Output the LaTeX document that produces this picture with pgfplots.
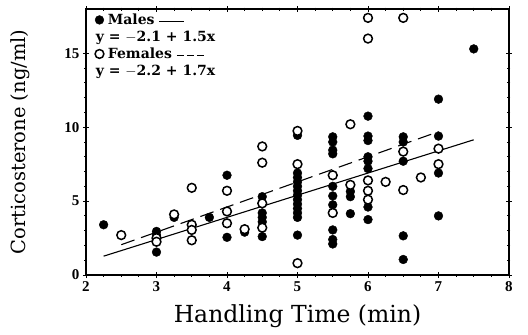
\documentclass[border=0pt]{standalone}
\usepackage{pgfplots}
\pgfplotsset{compat=1.18}
\usepackage{fontspec}
\setmainfont{DejaVu Serif}
\newfontfamily\tickfont{Liberation Serif}

\pgfplotstableread{
x y
2.25 3.4
3 2.95
3 2.7
3 1.55
3.25 3.9
3.75 3.9
4 6.75
4 2.55
4.25 2.9
4.5 5.3
4.5 4.2
4.5 3.9
4.5 3.6
4.5 2.6
5 9.45
5 6.9
5 6.6
5 6.3
5 6.0
5 5.7
5 5.4
5 5.1
5 4.8
5 4.5
5 4.2
5 3.9
5 2.7
5.5 9.35
5.5 9.0
5.5 8.45
5.5 8.2
5.5 6.0
5.5 5.35
5.5 4.75
5.5 3.05
5.5 2.4
5.5 2.1
5.75 5.65
5.75 5.3
5.75 4.15
6 10.75
6 9.4
6 9.1
6 8.0
6 7.7
6 7.2
6 4.6
6 3.75
6.5 9.35
6.5 9.0
6.5 7.7
6.5 2.65
6.5 1.05
7 11.9
7 9.4
7 6.9
7 4.0
7.5 15.3
}\males

\pgfplotstableread{
x y
2.5 2.7
3 2.5
3 2.25
3.25 4.1
3.5 5.9
3.5 3.4
3.5 3.05
3.5 2.35
4 5.7
4 4.3
4 3.5
4.25 3.1
4.5 8.7
4.5 7.6
4.5 4.85
4.5 3.2
5 9.75
5 7.5
5 0.8
5.5 6.75
5.5 4.2
5.75 10.2
5.75 6.1
6 17.4
6 16.0
6 6.4
6 5.7
6 5.1
6.25 6.3
6.5 17.4
6.5 8.35
6.5 5.75
6.75 6.6
7 8.55
7 7.5
}\females

\begin{document}
\begin{tikzpicture}
\begin{axis}[
  scale only axis, width=423pt, height=266pt,
  xmin=2, xmax=8, ymin=0, ymax=18,
  xtick={2,3,4,5,6,7,8}, ytick={0,5,10,15},
  minor x tick num=3, minor y tick num=4,
  axis line style={line width=1.3pt},
  every tick/.style={black, line width=0.9pt},
  major tick length=6pt, minor tick length=3pt,
  tick align=center,
  /pgf/number format/assume math mode=true,
  ticklabel style={font=\fontsize{15}{17}\selectfont\tickfont\bfseries},
  xlabel={Handling Time (min)},
  ylabel={Corticosterone (ng/ml)},
  xlabel style={font=\fontsize{23.5}{28}\selectfont, at={(axis description cs:0.5,-0.155)}, anchor=center},
  ylabel style={font=\fontsize{19.5}{24}\selectfont, at={(axis description cs:-0.156,0.5)}, anchor=center},
  legend cell align=left,
  legend style={at={(0.021,0.99)}, anchor=north west, draw=none, fill=none,
    font=\fontsize{14}{15}\selectfont\bfseries, row sep=1pt, inner sep=0pt,
    column sep=2pt},
  legend image code/.code={\draw[#1, only marks] plot coordinates {(0pt,0pt)};},
]
\addplot[black, line width=1.1pt, forget plot] coordinates {(2.25,1.275) (7.5,9.15)};
\addplot[black, line width=1.1pt, dash pattern=on 14pt off 7pt, forget plot] coordinates {(2.5,2.05) (7,9.7)};
\addplot[only marks, mark=*, mark size=4.4pt, draw=black, fill=black] table {\males};
\addlegendentry{Males \raisebox{0.35ex}{\rule{25pt}{1.1pt}}}
\addlegendimage{empty legend}
\addlegendentry{\hspace*{-12pt}y = $-$2.1 + 1.5x}
\addplot[only marks, mark=*, mark size=4.4pt, draw=black, fill=white, line width=1.5pt] table {\females};
\addlegendentry{Females \raisebox{0.35ex}{\rule{7pt}{1.1pt}\hspace{3pt}\rule{7pt}{1.1pt}\hspace{3pt}\rule{7pt}{1.1pt}}}
\addlegendimage{empty legend}
\addlegendentry{\hspace*{-12pt}y = $-$2.2 + 1.7x}
\end{axis}
\pgfresetboundingbox
\path (current axis.south west) ++(-86pt,-60pt) rectangle ++(528pt,335pt);
\end{tikzpicture}
\end{document}
